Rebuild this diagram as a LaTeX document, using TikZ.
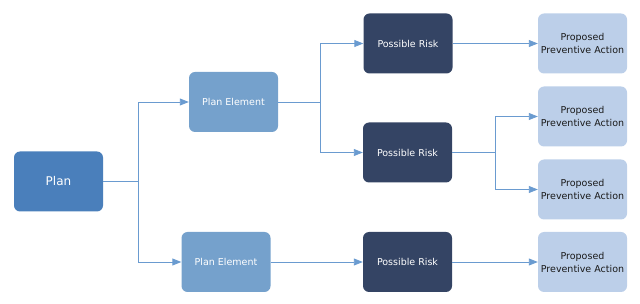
\documentclass[tikz,border=0pt]{standalone}
\usepackage{fontspec}
\setmainfont{DejaVu Sans}
\usetikzlibrary{arrows.meta}
\definecolor{plancol}{HTML}{4A7FBB}
\definecolor{elemcol}{HTML}{75A1CC}
\definecolor{riskcol}{HTML}{344464}
\definecolor{actcol}{HTML}{BCCFE9}
\definecolor{linecol}{HTML}{6A9BD0}
\definecolor{textdark}{HTML}{1A1A1A}
\tikzset{
  box/.style={rectangle, rounded corners=6pt, minimum width=89pt, minimum height=60pt, inner sep=0pt, align=center, font=\fontsize{9.5}{13}\selectfont},
  planbox/.style={box, fill=plancol, text=white, font=\fontsize{12}{14}\selectfont},
  elembox/.style={box, fill=elemcol, text=white},
  riskbox/.style={box, fill=riskcol, text=white},
  actbox/.style={box, fill=actcol, text=textdark},
  conn/.style={draw=linecol, line width=0.9pt, -{Triangle[length=9pt,width=7pt]}},
  link/.style={draw=linecol, line width=0.9pt}
}
\begin{document}
\begin{tikzpicture}[x=1pt,y=-1pt]
\useasboundingbox (0,0) rectangle (640,304);
\node[planbox] (plan) at (58.5,181.5) {Plan};
\node[elembox] (pe1) at (233.5,102) {Plan Element};
\node[elembox] (pe2) at (226,262) {Plan Element};
\node[riskbox] (pr1) at (408,43.5) {Possible Risk};
\node[riskbox] (pr2) at (407.5,152.5) {Possible Risk};
\node[riskbox] (pr3) at (407.5,262) {Possible Risk};
\node[actbox] (a1) at (582.5,43.5) {Proposed\\Preventive Action};
\node[actbox] (a2) at (582.5,116.5) {Proposed\\Preventive Action};
\node[actbox] (a3) at (582.5,189.5) {Proposed\\Preventive Action};
\node[actbox] (a4) at (582.5,262) {Proposed\\Preventive Action};
\coordinate (b1) at (138,181.5);
\coordinate (b2) at (320,102);
\coordinate (b3) at (495,152.5);
\draw[link] (plan.east) -- (b1);
\draw[conn] (b1) |- (pe1.west);
\draw[conn] (b1) |- (pe2.west);
\draw[link] (pe1.east) -- (b2);
\draw[conn] (b2) |- (pr1.west);
\draw[conn] (b2) |- (pr2.west);
\draw[conn] (pe2.east) -- (pr3.west);
\draw[conn] (pr1.east) -- (a1.west);
\draw[link] (pr2.east) -- (b3);
\draw[conn] (b3) |- (a2.west);
\draw[conn] (b3) |- (a3.west);
\draw[conn] (pr3.east) -- (a4.west);
\end{tikzpicture}
\end{document}
